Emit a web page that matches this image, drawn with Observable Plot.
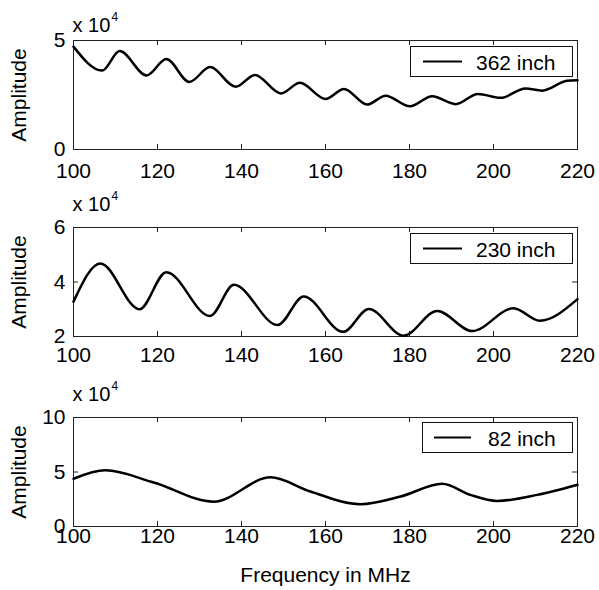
<!DOCTYPE html>
<html><head><meta charset="utf-8">
<script src="https://cdn.jsdelivr.net/npm/d3@7"></script>
<script src="https://cdn.jsdelivr.net/npm/@observablehq/plot@0.6"></script>
<style>
body{margin:0;background:#fff;}
#chart{position:relative;width:599px;height:590px;font-family:"Liberation Sans",Arial,Helvetica,sans-serif;color:#000;}
.panel{position:absolute;left:0;}
.legend{position:absolute;border:1px solid #111;background:#fff;box-sizing:border-box;font-size:21px;}
.legend svg{position:absolute;top:0;}
.legend span{position:absolute;top:50%;transform:translateY(-50%);line-height:1;white-space:nowrap;}
</style></head><body><div id="chart"></div>
<script>
// ---- data (amplitude in units of 10^4) ----
const freqTicks = [100, 120, 140, 160, 180, 200, 220];
const seriesNames = ["362 inch", "230 inch", "82 inch"];
const xLabel = "Frequency in MHz";
const yLabel = "Amplitude";

const freq362 = [100, 106.8, 111.0, 117.4, 122.1, 127.6, 132.5, 138.6, 143.2, 149.4, 153.9, 160.0, 164.4, 169.9, 174.3, 180.1, 185.4, 191.0, 196.3, 201.7, 207.6, 211.6, 217.5, 220];
const amp362  = [4.72, 3.62, 4.52, 3.40, 4.15, 3.10, 3.78, 2.88, 3.42, 2.57, 3.06, 2.32, 2.78, 2.06, 2.47, 1.98, 2.44, 2.08, 2.55, 2.37, 2.80, 2.70, 3.15, 3.18];

const freq230 = [100, 106.4, 115.7, 122.1, 132.5, 138.2, 148.6, 154.8, 164.2, 170.3, 178.6, 186.6, 194.9, 204.8, 211.0, 220];
const amp230  = [3.28, 4.68, 3.00, 4.36, 2.75, 3.90, 2.42, 3.47, 2.17, 3.01, 2.03, 2.94, 2.20, 3.04, 2.58, 3.37];

const freq82 = [100, 107.6, 119.1, 133.4, 146.9, 156.4, 168.3, 177.9, 187.8, 194.5, 200.9, 210.4, 220];
const amp82  = [4.38, 5.15, 4.04, 2.28, 4.51, 3.21, 2.04, 2.75, 3.92, 2.90, 2.35, 2.90, 3.83];

const yDomain362 = [0, 5], yTicks362 = [0, 5];
const yDomain230 = [2, 6], yTicks230 = [2, 4, 6];
const yDomain82 = [0, 10], yTicks82 = [0, 5, 10];
const exponentBase = "x 10", exponentPower = "4";

// ---- build ----
const series = [
  {name: seriesNames[0], f: freq362, a: amp362, dom: yDomain362, ticks: yTicks362},
  {name: seriesNames[1], f: freq230, a: amp230, dom: yDomain230, ticks: yTicks230},
  {name: seriesNames[2], f: freq82, a: amp82, dom: yDomain82, ticks: yTicks82}
];
// layout only
const layout = [
  {top: 0,   height: 185, mt: 40, mb: 36, xPad: 14, expDy: -9,  leg: {l: 410, t: 46,  w: 163, h: 31, lineX: 12, lineW: 39, textX: 65}},
  {top: 185, height: 190, mt: 42, mb: 39, xPad: 11, expDy: -17, leg: {l: 410, t: 233, w: 163, h: 31, lineX: 12, lineW: 39, textX: 65}},
  {top: 375, height: 215, mt: 42, mb: 64, xPad: 2,  expDy: -17, leg: {l: 422, t: 422, w: 151, h: 31, lineX: 11, lineW: 37, textX: 65}}
];
const W = 599, ML = 73, MR = 22, innerW = W - ML - MR, tick = 5;
const chart = document.getElementById("chart");
const font = "'Liberation Sans', Arial, Helvetica, sans-serif";

series.forEach((s, i) => {
  const L = layout[i];
  const data = s.f.map((f, k) => ({f, a: s.a[k]}));
  const innerH = L.height - L.mt - L.mb;
  const marks = [
    Plot.ruleX(freqTicks, {insetTop: innerH - tick, stroke: "#222", strokeWidth: 1}),
    Plot.ruleX(freqTicks, {insetBottom: innerH - tick, stroke: "#222", strokeWidth: 1}),
    Plot.ruleY(s.ticks, {insetRight: innerW - tick, stroke: "#222", strokeWidth: 1}),
    Plot.ruleY(s.ticks, {insetLeft: innerW - tick, stroke: "#222", strokeWidth: 1}),
    Plot.frame({stroke: "#222", strokeWidth: 1}),
    Plot.line(data, {x: "f", y: "a", curve: "monotone-x", stroke: "#000", strokeWidth: 2.5}),
    Plot.axisX(freqTicks, {tickSize: 0, tickPadding: L.xPad, label: null, fontSize: 21, fill: "#000"}),
    Plot.axisY(s.ticks, {tickSize: 0, tickPadding: 8, label: null, fontSize: 21, fill: "#000"}),
    Plot.text([yLabel], {frameAnchor: "left", textAnchor: "middle", lineAnchor: "middle", rotate: -90, dx: -54, fontSize: 21, fill: "#000"}),
    Plot.text([exponentBase], {frameAnchor: "top-left", textAnchor: "start", lineAnchor: "bottom", dx: -1, dy: L.expDy, fontSize: 20, fill: "#000"}),
    Plot.text([exponentPower], {frameAnchor: "top-left", textAnchor: "start", lineAnchor: "bottom", dx: 38, dy: L.expDy - 11, fontSize: 12, fill: "#000"})
  ];
  if (i === 2) marks.push(Plot.text([xLabel], {frameAnchor: "bottom", textAnchor: "middle", lineAnchor: "top", dy: 41, fontSize: 21, fill: "#000"}));
  const p = Plot.plot({
    width: W, height: L.height,
    marginLeft: ML, marginRight: MR, marginTop: L.mt, marginBottom: L.mb,
    x: {domain: [100, 220]},
    y: {domain: s.dom},
    style: {fontFamily: font, fontSize: "21px", color: "#000", background: "transparent", overflow: "visible"},
    marks
  });
  p.classList.add("panel");
  p.style.top = L.top + "px";
  chart.appendChild(p);

  const g = L.leg;
  const leg = document.createElement("div");
  leg.className = "legend";
  Object.assign(leg.style, {left: g.l + "px", top: g.t + "px", width: g.w + "px", height: g.h + "px"});
  const h = g.h - 2;
  leg.innerHTML = `<svg width="${g.w}" height="${h}"><line x1="${g.lineX}" x2="${g.lineX + g.lineW}" y1="${h/2}" y2="${h/2}" stroke="#000" stroke-width="2"/></svg><span style="left:${g.textX}px">${s.name}</span>`;
  chart.appendChild(leg);
});
</script></body></html>
